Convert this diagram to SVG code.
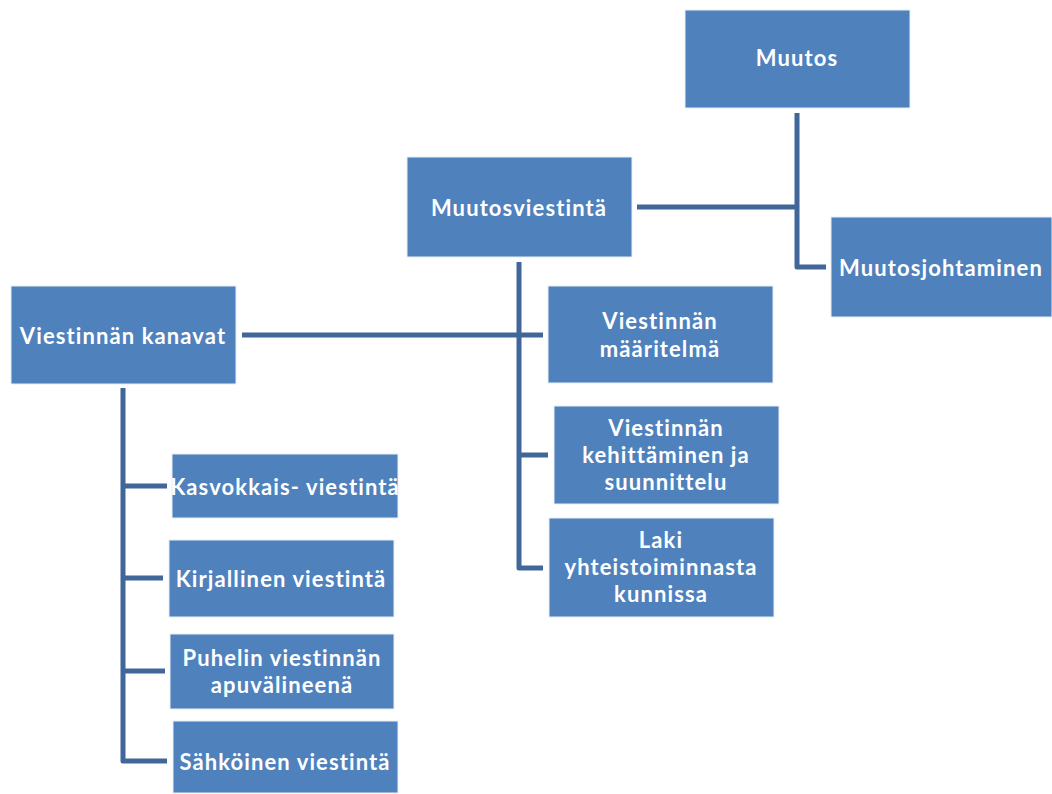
<svg xmlns="http://www.w3.org/2000/svg" width="1052" height="794" viewBox="0 0 1052 794">
<style>
.box{fill:#4F81BD;stroke:#E8EEF6;stroke-width:1}
.t{fill:#FFFFFF;font-family:Lato,"Open Sans","Liberation Sans",sans-serif;font-weight:700;font-size:22px;letter-spacing:1.1px;text-anchor:middle;dominant-baseline:central}
.c{fill:none;stroke:#41679A;stroke-width:5;stroke-linejoin:round;stroke-linecap:butt}
</style>
<rect width="1052" height="794" fill="#FFFFFF"/>
<g id="connectors">
<path class="c" d="M797,113 V267 H826"/>
<path class="c" d="M637,207 H797"/>
<path class="c" d="M519,262 V568 H543"/>
<path class="c" d="M242,335 H543"/>
<path class="c" d="M519,455 H548"/>
<path class="c" d="M123,388 V761 H167"/>
<path class="c" d="M123,486 H167"/>
<path class="c" d="M123,578 H163"/>
<path class="c" d="M123,671 H165"/>
</g>
<g id="muutos"><rect class="box" x="685" y="10" width="225" height="98"/><text class="t" x="797" y="57">Muutos</text></g>
<g id="muutosjohtaminen"><rect class="box" x="831" y="217" width="221" height="100"/><text class="t" x="941" y="267">Muutosjohtaminen</text></g>
<g id="muutosviestinta"><rect class="box" x="407" y="157" width="225" height="100"/><text class="t" x="519" y="207">Muutosviestintä</text></g>
<g id="maaritelma"><rect class="box" x="548" y="286" width="225" height="97"/><text class="t" x="660" y="320">Viestinnän</text><text class="t" x="660" y="348">määritelmä</text></g>
<g id="kehittaminen"><rect class="box" x="554" y="406" width="225" height="98"/><text class="t" x="666" y="427">Viestinnän</text><text class="t" x="666" y="454">kehittäminen ja</text><text class="t" x="666" y="481">suunnittelu</text></g>
<g id="laki"><rect class="box" x="549" y="518" width="225" height="99"/><text class="t" x="661" y="539">Laki</text><text class="t" x="661" y="566">yhteistoiminnasta</text><text class="t" x="661" y="593">kunnissa</text></g>
<g id="kanavat"><rect class="box" x="11" y="286" width="225" height="98"/><text class="t" x="123" y="335">Viestinnän kanavat</text></g>
<g id="kasvokkais"><rect class="box" x="172" y="454" width="226" height="64"/><text class="t" x="285" y="486">Kasvokkais- viestintä</text></g>
<g id="kirjallinen"><rect class="box" x="169" y="540" width="225" height="77"/><text class="t" x="281" y="578">Kirjallinen viestintä</text></g>
<g id="puhelin"><rect class="box" x="170" y="634" width="224" height="75"/><text class="t" x="282" y="657">Puhelin viestinnän</text><text class="t" x="282" y="684">apuvälineenä</text></g>
<g id="sahkoinen"><rect class="box" x="173" y="721" width="225" height="72"/><text class="t" x="285" y="761">Sähköinen viestintä</text></g>
</svg>
